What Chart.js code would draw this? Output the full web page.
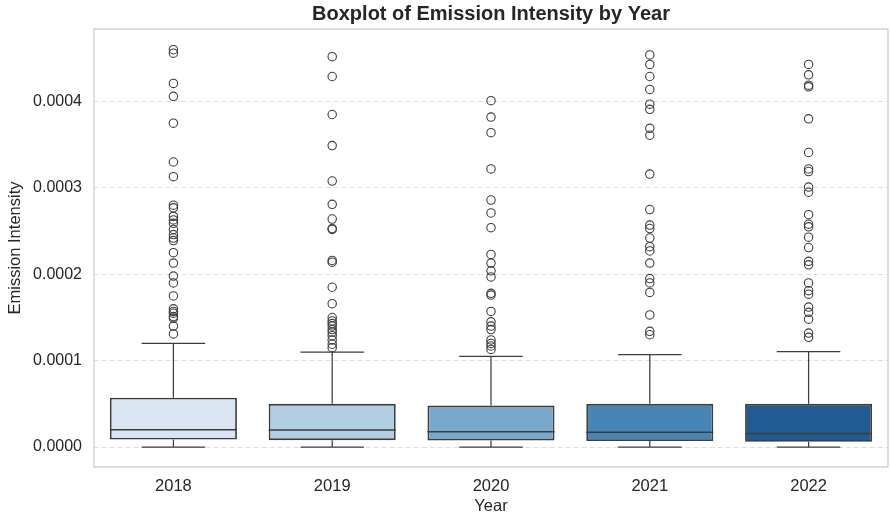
<!DOCTYPE html>
<html>
<head>
<meta charset="utf-8">
<script src="https://cdn.jsdelivr.net/npm/chart.js@4/dist/chart.umd.min.js"></script>
<style>
  html, body { margin: 0; padding: 0; background: #fff; overflow: hidden; }
  #wrap { width: 890px; height: 515px; }
  canvas { display: block; }
</style>
</head>
<body>
<div id="wrap"><canvas id="chart" width="890" height="515"></canvas></div>
<script>
// Emission intensity box summaries per year.
const YEARS = ['2018', '2019', '2020', '2021', '2022'];
const WHISKER_LOW = [0, 0, 0, 0, 0];
const Q1 = [0.88e-5, 0.80e-5, 0.77e-5, 0.70e-5, 0.62e-5];
const MEDIAN = [2.00e-5, 1.98e-5, 1.77e-5, 1.72e-5, 1.57e-5];
const Q3 = [5.70e-5, 5.00e-5, 4.80e-5, 5.00e-5, 5.00e-5];
const WHISKER_HIGH = [1.20e-4, 1.10e-4, 1.05e-4, 1.07e-4, 1.105e-4];

const OUTLIERS_2018 = [4.60e-4, 4.56e-4, 4.21e-4, 4.06e-4, 3.75e-4, 3.30e-4, 3.13e-4, 2.80e-4, 2.77e-4,
  2.67e-4, 2.63e-4, 2.59e-4, 2.52e-4, 2.46e-4, 2.42e-4, 2.39e-4, 2.25e-4, 2.13e-4, 1.98e-4, 1.90e-4,
  1.75e-4, 1.60e-4, 1.57e-4, 1.55e-4, 1.51e-4, 1.49e-4, 1.40e-4, 1.31e-4];
const OUTLIERS_2019 = [4.52e-4, 4.29e-4, 3.85e-4, 3.49e-4, 3.08e-4, 2.81e-4, 2.64e-4, 2.53e-4, 2.52e-4,
  2.16e-4, 2.14e-4, 1.85e-4, 1.66e-4, 1.50e-4, 1.46e-4, 1.43e-4, 1.40e-4, 1.36e-4, 1.33e-4, 1.29e-4,
  1.24e-4, 1.19e-4, 1.15e-4];
const OUTLIERS_2020 = [4.01e-4, 3.82e-4, 3.64e-4, 3.22e-4, 2.86e-4, 2.71e-4, 2.54e-4, 2.23e-4, 2.13e-4,
  2.04e-4, 1.97e-4, 1.78e-4, 1.76e-4, 1.57e-4, 1.45e-4, 1.40e-4, 1.36e-4, 1.24e-4, 1.20e-4, 1.17e-4,
  1.13e-4];
const OUTLIERS_2021 = [4.54e-4, 4.43e-4, 4.29e-4, 4.14e-4, 3.97e-4, 3.91e-4, 3.69e-4, 3.61e-4, 3.16e-4,
  2.75e-4, 2.57e-4, 2.53e-4, 2.42e-4, 2.32e-4, 2.27e-4, 2.13e-4, 1.95e-4, 1.90e-4, 1.79e-4, 1.53e-4,
  1.34e-4, 1.30e-4];
const OUTLIERS_2022 = [4.43e-4, 4.31e-4, 4.19e-4, 4.17e-4, 3.80e-4, 3.41e-4, 3.22e-4, 3.19e-4, 3.01e-4,
  2.95e-4, 2.69e-4, 2.58e-4, 2.55e-4, 2.43e-4, 2.31e-4, 2.15e-4, 2.11e-4, 1.90e-4, 1.81e-4, 1.77e-4,
  1.62e-4, 1.56e-4, 1.48e-4, 1.32e-4, 1.27e-4];
const OUTLIERS = [OUTLIERS_2018, OUTLIERS_2019, OUTLIERS_2020, OUTLIERS_2021, OUTLIERS_2022];

const Y_TICKS = [0, 1e-4, 2e-4, 3e-4, 4e-4];
const BOX_COLORS = ['#d9e6f2', '#b1cee2', '#78a9ca', '#4884b4', '#215b92'];
const LINE = '#3d3d3d';
const FONT = "'Liberation Sans', Arial, sans-serif";

// whiskers, caps and medians, drawn from the bar elements and the y scale
const boxExtras = {
  id: 'boxExtras',
  afterDatasetsDraw(chart) {
    const { ctx, scales: { y } } = chart;
    const bars = chart.getDatasetMeta(0).data;
    ctx.save();
    ctx.strokeStyle = LINE;
    bars.forEach((bar, i) => {
      const cx = bar.x;
      const half = bar.width / 2;
      const cap = half / 2;
      const yHi = y.getPixelForValue(WHISKER_HIGH[i]);
      const yLo = y.getPixelForValue(WHISKER_LOW[i]);
      const yQ3 = y.getPixelForValue(Q3[i]);
      const yQ1 = y.getPixelForValue(Q1[i]);
      const yMed = y.getPixelForValue(MEDIAN[i]);
      ctx.lineWidth = 1.25;
      ctx.beginPath();
      ctx.moveTo(cx, yQ3); ctx.lineTo(cx, yHi);
      ctx.moveTo(cx - cap, yHi); ctx.lineTo(cx + cap, yHi);
      ctx.moveTo(cx, yQ1); ctx.lineTo(cx, yLo);
      ctx.moveTo(cx - cap, yLo); ctx.lineTo(cx + cap, yLo);
      ctx.stroke();
      ctx.lineWidth = 1.6;
      ctx.beginPath();
      ctx.moveTo(cx - half, yMed); ctx.lineTo(cx + half, yMed);
      ctx.stroke();
    });
    ctx.restore();
  },
};

// light frame around the plot area, like the seaborn spines
const frame = {
  id: 'frame',
  afterDraw(chart) {
    const { ctx, chartArea: a } = chart;
    ctx.save();
    ctx.strokeStyle = '#cccccc';
    ctx.lineWidth = 1.25;
    ctx.strokeRect(a.left, a.top, a.right - a.left, a.bottom - a.top);
    ctx.restore();
  },
};

const outlierPoints = OUTLIERS.flatMap((vals, i) => vals.map((v) => ({ x: YEARS[i], y: v })));

new Chart(document.getElementById('chart'), {
  type: 'bar',
  data: {
    labels: YEARS,
    datasets: [
      {
        label: 'box',
        data: YEARS.map((_, i) => [Q1[i], Q3[i]]),
        backgroundColor: BOX_COLORS,
        borderColor: LINE,
        borderWidth: 1.8,
        borderSkipped: false,
        barPercentage: 0.8,
        categoryPercentage: 1,
        order: 2,
      },
      {
        type: 'scatter',
        label: 'outliers',
        data: outlierPoints,
        pointStyle: 'circle',
        pointRadius: 4.2,
        pointBorderWidth: 1.1,
        pointBorderColor: LINE,
        pointBackgroundColor: 'rgba(0,0,0,0)',
        order: 1,
      },
    ],
  },
  options: {
    responsive: false,
    animation: false,
    layout: { autoPadding: false, padding: { left: 0, right: 2, top: 0, bottom: 0 } },
    scales: {
      x: {
        type: 'category',
        offset: true,
        grid: { display: false, drawTicks: false },
        border: { display: false },
        ticks: { color: '#262626', font: { family: FONT, size: 16.5 }, padding: 10 },
        title: { display: true, text: 'Year', color: '#262626', font: { family: FONT, size: 16.5, lineHeight: 1 }, padding: 0 },
        afterFit: (s) => { s.height = 48; },
      },
      y: {
        min: -0.231e-4,
        max: 4.84e-4,
        grid: { color: '#dedede', lineWidth: 1, drawTicks: false },
        border: { display: false, dash: [5, 3] },
        afterBuildTicks: (s) => { s.ticks = Y_TICKS.map((v) => ({ value: v })); },
        ticks: {
          color: '#262626',
          font: { family: FONT, size: 16 },
          padding: 12,
          callback: (v) => Number(v).toFixed(4),
        },
        title: { display: true, text: 'Emission Intensity', color: '#262626', font: { family: FONT, size: 16.5 }, padding: { top: 6, bottom: 0 } },
        afterFit: (s) => { s.width = 94; },
      },
    },
    plugins: {
      legend: { display: false },
      tooltip: { enabled: false },
      title: {
        display: true,
        fullSize: false,
        text: 'Boxplot of Emission Intensity by Year',
        color: '#262626',
        font: { family: FONT, size: 20, weight: 'bold' },
        padding: { top: 2, bottom: 3 },
      },
    },
  },
  plugins: [boxExtras, frame],
});
</script>
</body>
</html>
